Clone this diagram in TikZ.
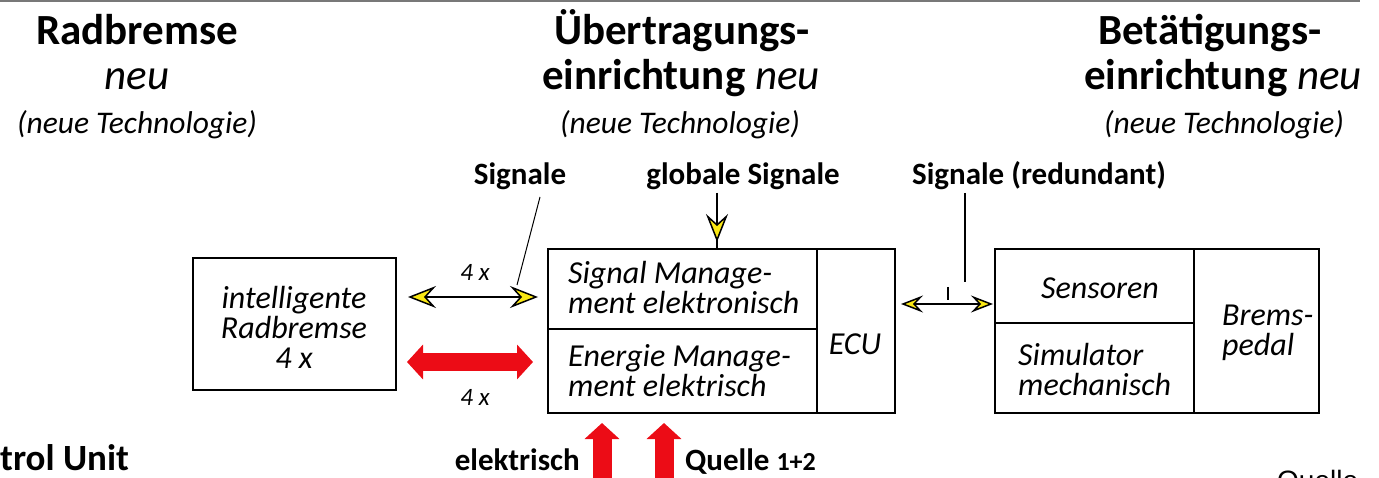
\documentclass[tikz,border=0pt]{standalone}
\usepackage{fontspec}
\setmainfont{Carlito}
\newfontfamily\quellefont{Liberation Sans}
\usetikzlibrary{arrows.meta,calc}
\definecolor{ylw}{RGB}{250,232,20}
\definecolor{rd}{RGB}{236,12,22}
\definecolor{topgrey}{RGB}{120,120,120}
\begin{document}
\begin{tikzpicture}[x=1pt,y=-1pt,
  head/.style={anchor=base, inner sep=0pt, font=\fontsize{43}{45}\selectfont\bfseries},
  headit/.style={anchor=base, inner sep=0pt, font=\fontsize{43}{45}\selectfont\itshape},
  sub/.style={anchor=base, inner sep=0pt, font=\fontsize{31.5}{32}\selectfont\itshape},
  lab/.style={anchor=base, inner sep=0pt, font=\fontsize{31}{32}\selectfont\bfseries},
  small/.style={inner sep=0pt, font=\fontsize{25}{26}\selectfont\itshape},
  boxtxt/.style={font=\fontsize{32}{30}\selectfont\itshape, inner sep=0pt},
  box/.style={draw, line width=1.6pt, inner sep=0pt, anchor=north west},
  ytip/.tip={Stealth[length=28pt, width=22pt, inset=10pt, fill=ylw]},
  ytips/.tip={Stealth[length=22pt, width=17pt, inset=8pt, fill=ylw]},
  rtip/.tip={Triangle[length=16pt, width=34pt]},
  thin/.style={line width=1.5pt},
]
\useasboundingbox (0,0) rectangle (1379,478);
\clip (0,0) rectangle (1379,478);
% top rule
\coordinate (tl) at (0,1);
\coordinate (tr) at (1360,1);
\draw[topgrey, line width=2pt] (tl) -- (tr);

% headings
\node[head] (h1a) at (137,45) {Radbremse};
\node[headit] (h1b) at (137,90) {neu};
\node[sub] (h1c) at (137,134) {(neue Technologie)};
\node[head] (h2a) at (682,45) {Übertragungs-};
\node[head] (h2b) at (681,90) {einrichtung {\mdseries\itshape neu}};
\node[sub] (h2c) at (680,134) {(neue Technologie)};
\node[head] (h3a) at (1210,45) {Betätigungs-};
\node[head] (h3b) at (1223,90) {einrichtung {\mdseries\itshape neu}};
\node[sub] (h3c) at (1224,134) {(neue Technologie)};

% labels
\node[lab] (sig) at (520,185) {Signale};
\node[lab] (gsig) at (743,185) {globale Signale};
\node[lab] (rsig) at (1039,185) {Signale (redundant)};

% boxes
\node[box, minimum width=203pt, minimum height=132pt] (rb) at (192,257) {};
\node[boxtxt, align=center] (rbt) at (294,327) {intelligente\\Radbremse\\4 x};
\node[box, minimum width=269pt, minimum height=80pt] (sm) at (547,248) {};
\node[boxtxt, align=left, anchor=west] (smt) at (568,288) {Signal Manage-\\ment elektronisch};
\node[box, minimum width=269pt, minimum height=84pt] (em) at (547,328) {};
\node[boxtxt, align=left, anchor=west] (emt) at (568,371) {Energie Manage-\\ment elektrisch};
\node[box, minimum width=78pt, minimum height=164pt] (ecu) at (816,248) {};
\node[boxtxt] (ecut) at (855,344) {ECU};

\node[box, minimum width=199pt, minimum height=74pt] (sen) at (994,248) {};
\node[boxtxt] (sent) at (1100,288) {Sensoren};
\node[box, minimum width=199pt, minimum height=90pt] (sim) at (994,322) {};
\node[boxtxt, align=left, anchor=west] (simt) at (1018,370) {Simulator\\mechanisch};
\node[box, minimum width=125pt, minimum height=164pt] (bp) at (1193,248) {};
\node[boxtxt, align=left, anchor=west] (bpt) at (1222,333) {Brems-\\pedal};

% signal arrow left
\coordinate (ya1) at (408,297);
\coordinate (ya2) at (538,297);
\draw[thin, ytip-ytip] (ya1) -- (ya2);
\node[small] (n4a) at (475,272) {4 x};
\coordinate (sp1) at (540,197);
\coordinate (sp2) at (517,285);
\draw[line width=1pt] (sp1) -- (sp2);

% energy arrow left
\coordinate (ra1) at (407,362);
\coordinate (ra2) at (533,362);
\draw[rd, line width=18pt, rtip-rtip] (ra1) -- (ra2);
\node[small] (n4b) at (475,397) {4 x};

% global signals
\coordinate (gsa) at (717,193);
\coordinate (gst) at (717,242);
\draw[thin] (gsa) -- (sm.north -| gsa);
\draw[thin, -ytip] (gsa) -- (gst);

% right signal arrow
\coordinate (yb1) at (901,304);
\coordinate (yb2) at (993,304);
\draw[thin, ytips-ytips] (yb1) -- (yb2);
\coordinate (rp1) at (965,193);
\coordinate (rp2) at (965,282);
\draw[line width=1.2pt] (rp1) -- (rp2);
\coordinate (tk1) at (948,287);
\coordinate (tk2) at (948,300);
\draw[line width=1.2pt] (tk1) -- (tk2);

% supply arrows
\coordinate (e1s) at (602,495);
\coordinate (e1t) at (602,423);
\coordinate (e2s) at (664,495);
\coordinate (e2t) at (664,423);
\draw[rd, line width=19pt, -rtip] (e1s) -- (e1t);
\draw[rd, line width=19pt, -rtip] (e2s) -- (e2t);
\node[lab, anchor=base east] (el) at (580,470) {elektrisch};
\node[lab, anchor=base west] (ql) at (685,470) {Quelle {\fontsize{26}{26}\selectfont 1+2}};

% cut-off texts
\node[anchor=base west, inner sep=0pt, font=\fontsize{37}{38}\selectfont\bfseries] (ctu) at (0,470) {trol Unit};
\node[anchor=north west, inner sep=0pt, font=\fontsize{28}{30}\selectfont\quellefont] (qu) at (1277,470) {Quelle};
\end{tikzpicture}
\end{document}
